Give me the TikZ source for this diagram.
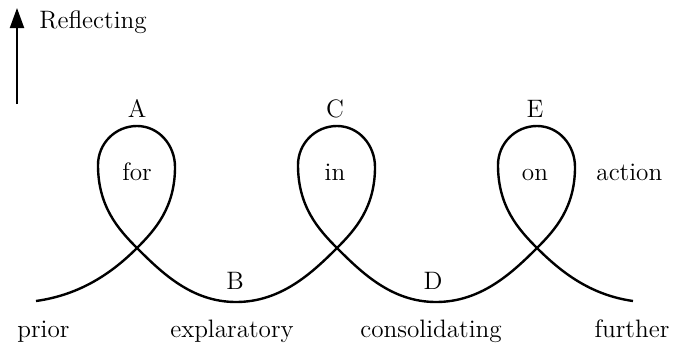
\documentclass[tikz,border=0pt]{standalone}
\usepackage{tikz}
\usetikzlibrary{arrows.meta}

\begin{document}
\begin{tikzpicture}[
  x=0.5pt,y=0.5pt,
  lbl/.style={font=\fontsize{12.6}{14}\selectfont,inner sep=0pt,anchor=base},
  loopline/.style={draw,line width=1.2pt,line join=round},
  up/.style={out=45,in=270,out looseness=0.75,in looseness=1.15},
  down/.style={out=270,in=135,out looseness=1.15,in looseness=0.75},
  >={Triangle[length=10pt,width=7pt]}
]
\useasboundingbox (0,0) rectangle (674,345);

\coordinate (axis0) at (17,241);
\coordinate (axis1) at (17,337);
\draw[->,line width=1pt] (axis0) -- (axis1);
\node[lbl,anchor=base west] (refl) at (39,317) {Reflecting};

\coordinate (s0) at (36,44);
\coordinate (x1) at (137,97);
\coordinate (r1) at (175,178);
\coordinate (t1) at (137,219);
\coordinate (l1) at (98,180);
\coordinate (b1) at (236,43);
\coordinate (x2) at (337,97);
\coordinate (r2) at (375,178);
\coordinate (t2) at (337,219);
\coordinate (l2) at (298,180);
\coordinate (b2) at (436,43);
\coordinate (x3) at (537,97);
\coordinate (r3) at (575,178);
\coordinate (t3) at (537,219);
\coordinate (l3) at (498,180);
\coordinate (e0) at (633,44);

\path[loopline] (s0) to[out=8,in=225,in looseness=0.8] (x1) to[up] (r1)
  to[out=90,in=0] (t1) to[out=180,in=90] (l1) to[down] (x1)
  to[out=-45,in=180,out looseness=0.8] (b1) to[out=0,in=225,in looseness=0.8] (x2) to[up] (r2)
  to[out=90,in=0] (t2) to[out=180,in=90] (l2) to[down] (x2)
  to[out=-45,in=180,out looseness=0.8] (b2) to[out=0,in=225,in looseness=0.8] (x3) to[up] (r3)
  to[out=90,in=0] (t3) to[out=180,in=90] (l3) to[down] (x3)
  to[out=-45,in=172,out looseness=0.8] (e0);

\node[lbl] (ptA) at (137,228) {A};
\node[lbl] (ptB) at (235,56) {B};
\node[lbl] (ptC) at (335,228) {C};
\node[lbl] (ptD) at (433,56) {D};
\node[lbl] (ptE) at (535,228) {E};

\node[lbl] (for) at (137,165) {for};
\node[lbl] (in) at (335,165) {in};
\node[lbl] (on) at (535,165) {on};
\node[lbl,anchor=base west] (action) at (596,165) {action};

\node[lbl,anchor=base west] (prior) at (17,8) {prior};
\node[lbl] (explor) at (232,8) {explaratory};
\node[lbl] (consol) at (431,8) {consolidating};
\node[lbl] (further) at (632,8) {further};
\end{tikzpicture}
\end{document}
